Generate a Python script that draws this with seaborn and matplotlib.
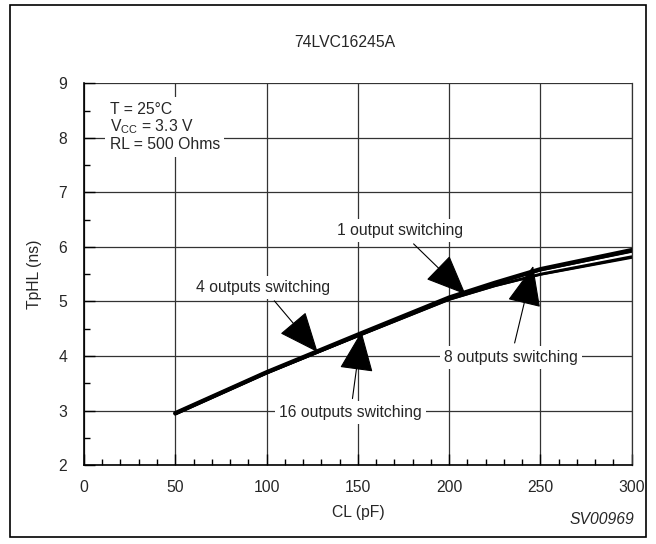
import matplotlib
matplotlib.use("Agg")
import matplotlib.pyplot as plt
import seaborn as sns
import pandas as pd
from matplotlib.patches import Rectangle
from matplotlib.ticker import MultipleLocator

sns.set_theme(style="white")
plt.rcParams['font.family'] = ['Liberation Sans', 'DejaVu Sans']

CL = [50, 100, 150, 200, 225, 250, 300]
t16 = [2.95, 3.70, 4.39, 5.07, 5.34, 5.59, 5.94]
t4 = [2.95, 3.70, 4.38, 5.06, 5.33, 5.58, 5.92]
t8 = [2.94, 3.69, 4.37, 5.04, 5.29, 5.50, 5.82]
t1 = [2.93, 3.68, 4.36, 5.03, 5.28, 5.49, 5.80]

series = {
    "16 outputs switching": (t16, 3.2),
    "4 outputs switching": (t4, 2.2),
    "8 outputs switching": (t8, 2.0),
    "1 output switching": (t1, 1.5),
}

FS = 11.3

fig = plt.figure(figsize=(6.56, 5.44), dpi=100)
ax = fig.add_axes([0.128, 0.145, 0.835, 0.702])

for name, (vals, lw) in series.items():
    df = pd.DataFrame({"CL": CL, "t": vals})
    sns.lineplot(data=df, x="CL", y="t", ax=ax, color="black", lw=lw, legend=False)

ax.set_xlim(0, 300)
ax.set_ylim(2, 9)
ax.xaxis.set_major_locator(MultipleLocator(50))
ax.xaxis.set_minor_locator(MultipleLocator(10))
ax.yaxis.set_major_locator(MultipleLocator(1))
ax.yaxis.set_minor_locator(MultipleLocator(0.5))
ax.grid(True, which="major", color="#333333", lw=0.9)
ax.set_axisbelow(True)
ax.tick_params(axis="both", which="major", direction="in", length=8, width=1,
               color="black", labelsize=FS, pad=10, bottom=True, left=True)
ax.tick_params(axis="both", which="minor", direction="in", length=4, width=1,
               color="black", bottom=True, left=True)
ax.tick_params(axis="x", pad=11)
ax.tick_params(axis="y", pad=12)
for s in ["top", "right"]:
    ax.spines[s].set_visible(False)
for s in ["left", "bottom"]:
    ax.spines[s].set_color("black")
    ax.spines[s].set_linewidth(1.2)
ax.spines["right"].set_visible(True)
ax.spines["right"].set_color("#333333")
ax.spines["right"].set_linewidth(0.9)

ax.set_xlabel("CL (pF)", fontsize=FS, labelpad=7)
ax.set_ylabel("TpHL (ns)", fontsize=FS, labelpad=12)

bbox = dict(boxstyle="square,pad=0.25", fc="white", ec="none")
ax.text(14, 8.2, "T = 25\u00b0C\nV$_{\\mathregular{CC}}$ = 3.3 V\nRL = 500 Ohms",
        fontsize=FS, va="center", ha="left", linespacing=1.05,
        bbox=dict(boxstyle="square,pad=0.3", fc="white", ec="none"))

arrow = dict(arrowstyle="-|>,head_length=1.3,head_width=0.55", color="black",
             lw=0.8, mutation_scale=20, shrinkA=2, shrinkB=0)
ax.annotate("1 output switching", xy=(209, 5.13), xytext=(173, 6.3),
            fontsize=FS, ha="center", va="center", bbox=bbox, arrowprops=arrow, zorder=5)
ax.annotate("4 outputs switching", xy=(128, 4.07), xytext=(98, 5.26),
            fontsize=FS, ha="center", va="center", bbox=bbox, arrowprops=arrow, zorder=5)
ax.annotate("16 outputs switching", xy=(152, 4.45), xytext=(146, 2.96),
            fontsize=FS, ha="center", va="center", bbox=bbox, arrowprops=arrow, zorder=5)
ax.annotate("8 outputs switching", xy=(246, 5.65), xytext=(234, 3.98),
            fontsize=FS, ha="center", va="center", bbox=bbox, arrowprops=arrow, zorder=5)

fig.text(0.526, 0.921, "74LVC16245A", fontsize=FS, ha="center", va="center")
fig.text(0.967, 0.045, "SV00969", fontsize=FS, ha="right", va="center", style="italic")
fig.patches.append(Rectangle((0.016, 0.012), 0.969, 0.978, transform=fig.transFigure,
                             fill=False, ec="black", lw=1.2))

fig.savefig("out.png", dpi=100)
